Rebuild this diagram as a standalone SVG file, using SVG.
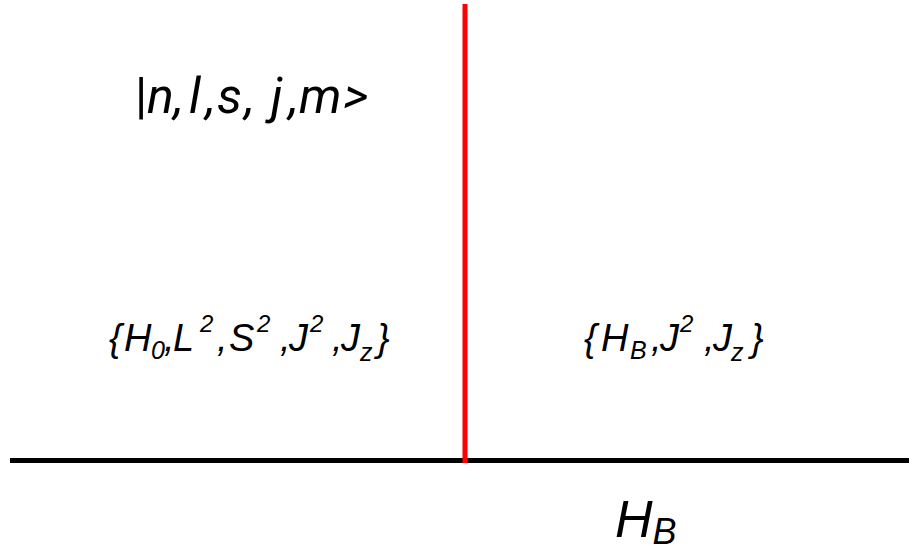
<svg xmlns="http://www.w3.org/2000/svg" width="909" height="554" viewBox="0 0 909 554">
<style>
.ket{font-family:Roboto,"Liberation Sans",sans-serif;font-style:italic;font-size:50px;fill:#000}
.set{font-family:"Liberation Sans",Arial,sans-serif;font-style:italic;font-size:38px;fill:#000}
.sub{font-size:25px}
.sup{font-size:24px}
.hb{font-family:"Liberation Sans",Arial,sans-serif;font-style:italic;font-size:52px;fill:#000}
</style>
<rect width="909" height="554" fill="#fff"/>
<g id="axes">
<line x1="10" y1="460.5" x2="909" y2="460.5" stroke="#000" stroke-width="5"/>
<line x1="465" y1="4" x2="465" y2="463" stroke="#f00" stroke-width="5"/>
</g>
<g id="ket"><text class="ket" y="113"><tspan x="135" font-style="normal">|</tspan><tspan x="147">n</tspan><tspan x="174">,</tspan><tspan x="189">l</tspan><tspan x="206">,</tspan><tspan x="217">s</tspan><tspan x="245">,</tspan><tspan x="271">j</tspan><tspan x="289">,</tspan><tspan x="299">m</tspan><tspan x="343">&gt;</tspan></text></g>
<g id="set-left"><text class="set" y="351"><tspan x="109">{</tspan><tspan x="124">H</tspan><tspan class="sub" x="151" y="359">0</tspan><tspan x="164" y="351">,</tspan><tspan x="173">L</tspan><tspan class="sup" x="200" y="332">2</tspan><tspan x="217" y="351">,</tspan><tspan x="229">S</tspan><tspan class="sup" x="257" y="332">2</tspan><tspan x="280" y="351">,</tspan><tspan x="289">J</tspan><tspan class="sup" x="310" y="332">2</tspan><tspan x="332" y="351">,</tspan><tspan x="341">J</tspan><tspan class="sub" x="360" y="361">z</tspan><tspan x="377" y="351">}</tspan></text></g>
<g id="set-right"><text class="set" y="351"><tspan x="584">{</tspan><tspan x="601">H</tspan><tspan class="sub" x="630" y="359">B</tspan><tspan x="651" y="351">,</tspan><tspan x="660">J</tspan><tspan class="sup" x="680" y="332">2</tspan><tspan x="704" y="351">,</tspan><tspan x="713">J</tspan><tspan class="sub" x="731" y="361">z</tspan><tspan x="751" y="351">}</tspan></text></g>
<g id="hb-label"><text class="hb" x="615" y="537">H<tspan font-size="36" dy="7">B</tspan></text></g>
</svg>
